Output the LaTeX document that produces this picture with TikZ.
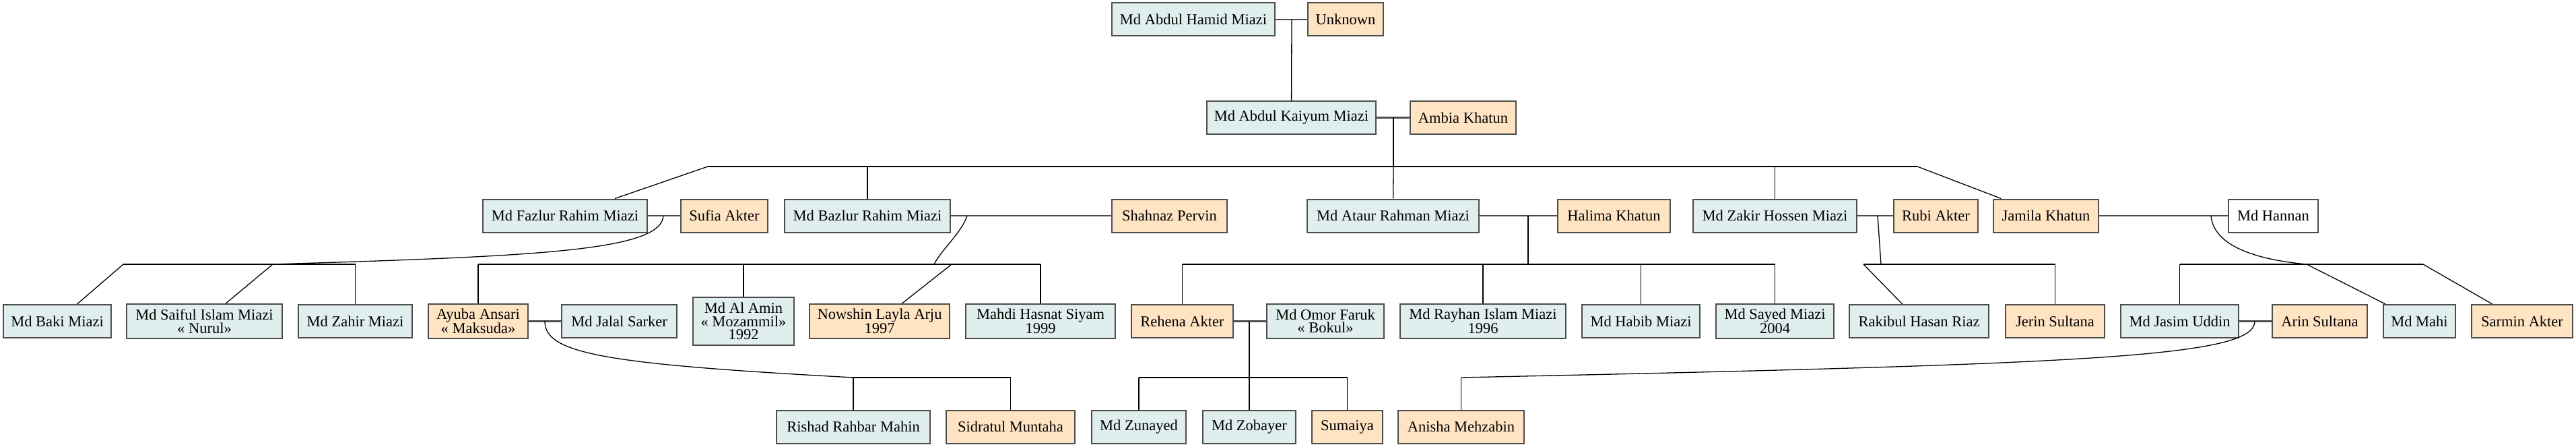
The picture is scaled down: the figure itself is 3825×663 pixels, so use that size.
\documentclass[tikz,border=0pt]{standalone}
\usepackage{fontspec}
\setmainfont{Liberation Serif}
\definecolor{bluef}{HTML}{E0EEEE}
\definecolor{orf}{HTML}{FFE4C4}
\definecolor{edgec}{HTML}{4D4D4D}
\tikzset{
  box/.style={draw=edgec, line width=2pt, inner sep=0pt, align=center,
    font=\fontsize{22.5}{19.5}\selectfont, minimum height=49pt},
  bl/.style={box, fill=bluef, minimum width=#1},
  og/.style={box, fill=orf, minimum width=#1},
  wh/.style={box, fill=white, minimum width=#1},
  two/.style={minimum height=51pt},
  three/.style={minimum height=71pt},
  kid/.style={line width=1.3pt, black},
  wed/.style={line width=2.2pt, edgec},
}
\begin{document}
\begin{tikzpicture}[x=1pt,y=-1pt]
\useasboundingbox (0,0) rectangle (3825,663);
% generation 1
\node[bl=242pt] (hamid) at (1772,29) {Md Abdul Hamid Miazi};
\node[og=112pt] (unknown) at (1998,29) {Unknown};
% generation 2
\node[bl=251pt] (kaiyum) at (1917.5,174.5) {Md Abdul Kaiyum Miazi};
\node[og=157pt] (ambia) at (2172.5,174.5) {Ambia Khatun};
% generation 3
\node[bl=244pt] (fazlur) at (839,320) {Md Fazlur Rahim Miazi};
\node[og=129pt] (sufia) at (1075.5,320) {Sufia Akter};
\node[bl=246pt] (bazlur) at (1288,320) {Md Bazlur Rahim Miazi};
\node[og=171pt] (shahnaz) at (1736.5,320) {Shahnaz Pervin};
\node[bl=255pt] (ataur) at (2068.5,320) {Md Ataur Rahman Miazi};
\node[og=167pt] (halima) at (2396.5,320) {Halima Khatun};
\node[bl=243pt] (zakir) at (2635.5,320) {Md Zakir Hossen Miazi};
\node[og=125pt] (rubi) at (2874.5,320) {Rubi Akter};
\node[og=156pt] (jamila) at (3038,320) {Jamila Khatun};
\node[wh=133pt] (hannan) at (3375.5,320) {Md Hannan};
% generation 4
\node[bl=160pt] (baki) at (85,476.5) {Md Baki Miazi};
\node[bl=231pt, two] (saiful) at (303.5,476.5) {Md Saiful Islam Miazi\\« Nurul»};
\node[bl=169pt] (zahir) at (527.5,476.5) {Md Zahir Miazi};
\node[og=148pt, two] (ayuba) at (710,476.5) {Ayuba Ansari\\« Maksuda»};
\node[bl=171pt] (jalal) at (919.5,476.5) {Md Jalal Sarker};
\node[bl=150pt, three] (alamin) at (1104,476.5) {Md Al Amin\\« Mozammil»\\1992};
\node[og=208pt, two] (nowshin) at (1306,476.5) {Nowshin Layla Arju\\1997};
\node[bl=222pt, two] (mahdi) at (1545,476.5) {Mahdi Hasnat Siyam\\1999};
\node[og=151pt] (rehena) at (1755.5,476.5) {Rehena Akter};
\node[bl=174pt, two] (omor) at (1968,476.5) {Md Omor Faruk\\« Bokul»};
\node[bl=246pt, two] (rayhan) at (2202,476.5) {Md Rayhan Islam Miazi\\1996};
\node[bl=175pt] (habib) at (2436.5,476.5) {Md Habib Miazi};
\node[bl=175pt, two] (sayed) at (2635.5,476.5) {Md Sayed Miazi\\2004};
\node[bl=207pt] (rakibul) at (2849.5,476.5) {Rakibul Hasan Riaz};
\node[og=147pt] (jerin) at (3051.5,476.5) {Jerin Sultana};
\node[bl=175pt] (jasim) at (3236.5,476.5) {Md Jasim Uddin};
\node[og=141pt] (arin) at (3444.5,476.5) {Arin Sultana};
\node[bl=107pt] (mahi) at (3592.5,476.5) {Md Mahi};
\node[og=150pt] (sarmin) at (3745,476.5) {Sarmin Akter};
% generation 5
\node[bl=228pt] (rishad) at (1267,633) {Rishad Rahbar Mahin};
\node[og=191pt] (sidratul) at (1500.5,633) {Sidratul Muntaha};
\node[bl=140pt] (zunayed) at (1691,633) {Md Zunayed};
\node[bl=138pt] (zobayer) at (1855,633) {Md Zobayer};
\node[og=105pt] (sumaiya) at (2000.5,633) {Sumaiya};
\node[og=187pt] (anisha) at (2169.5,633) {Anisha Mehzabin};

% ---- connectors ----
% Hamid + Unknown
\draw[wed] (hamid) -- (unknown);
\coordinate (m1) at (1918,29);
\draw[kid] (m1) -- (kaiyum);
% Kaiyum + Ambia
\draw[wed] (kaiyum) -- (ambia);
\coordinate (m2) at (2069,174.5);
\coordinate (c2L) at (1051,247);
\coordinate (c2R) at (2847,247);
\coordinate (c2M) at (2069,247);
\draw[kid] (m2) -- (c2M);
\draw[kid] (c2L) -- (c2R);
\draw[kid] (c2L) -- (fazlur);
\draw[kid] (bazlur |- c2L) -- (bazlur);
\draw[kid] (c2M) -- (ataur);
\draw[kid] (zakir |- c2L) -- (zakir);
\draw[kid] (c2R) -- (jamila);
% Fazlur + Sufia
\draw[wed] (fazlur) -- (sufia);
\coordinate (m3) at (985,320);
\coordinate (f1) at (183,392);
\coordinate (f2) at (527.5,392);
\coordinate (fj) at (405,392);
\draw[kid] (f1) -- (f2);
\draw[kid] (m3) .. controls (982,372) and (800,380) .. (fj);
\draw[kid] (f1) -- (baki);
\draw[kid] (fj) -- (saiful);
\draw[kid] (f2) -- (zahir);
% Bazlur + Shahnaz
\draw[wed] (bazlur) -- (shahnaz);
\coordinate (m4) at (1436,320);
\coordinate (b1) at (710,392);
\coordinate (b2) at (1545,392);
\coordinate (bj) at (1387,392);
\coordinate (bn) at (1413,392);
\draw[kid] (b1) -- (b2);
\draw[kid] (m4) .. controls (1428,345) and (1398,370) .. (bj);
\draw[kid] (b1) -- (ayuba);
\draw[kid] (alamin |- b1) -- (alamin);
\draw[kid] (bn) -- (nowshin);
\draw[kid] (b2) -- (mahdi);
% Ataur + Halima
\draw[wed] (ataur) -- (halima);
\coordinate (m5) at (2269,320);
\coordinate (a1) at (1755.5,392);
\coordinate (a2) at (2635.5,392);
\draw[kid] (m5) -- (m5 |- a1);
\draw[kid] (a1) -- (a2);
\draw[kid] (a1) -- (rehena);
\draw[kid] (rayhan |- a1) -- (rayhan);
\draw[kid] (habib |- a1) -- (habib);
\draw[kid] (a2) -- (sayed);
% Zakir + Rubi
\draw[wed] (zakir) -- (rubi);
\coordinate (m6) at (2788,320);
\coordinate (z1) at (2767,392);
\coordinate (z2) at (3051.5,392);
\coordinate (zj) at (2793,392);
\draw[kid] (m6) -- (zj);
\draw[kid] (z1) -- (z2);
\draw[kid] (z1) -- (rakibul);
\draw[kid] (z2) -- (jerin);
% Jamila + Hannan
\draw[wed] (jamila) -- (hannan);
\coordinate (m7) at (3283,320);
\coordinate (j1) at (3236.5,392);
\coordinate (j2) at (3598,392);
\coordinate (jj) at (3425,392);
\draw[kid] (j1) -- (j2);
\draw[kid] (m7) .. controls (3287,365) and (3350,385) .. (jj);
\draw[kid] (j1) -- (jasim);
\draw[kid] (jj) -- (mahi);
\draw[kid] (j2) -- (sarmin);
% Ayuba + Jalal
\draw[wed] (ayuba) -- (jalal);
\coordinate (m8) at (809,476.5);
\coordinate (y1) at (1267,560);
\coordinate (y2) at (1500.5,560);
\draw[kid] (y1) -- (y2);
\draw[kid] (m8) .. controls (809,525) and (900,540) .. (y1);
\draw[kid] (y1) -- (rishad);
\draw[kid] (y2) -- (sidratul);
% Rehena + Omor
\draw[wed] (rehena) -- (omor);
\coordinate (m9) at (1855,476.5);
\coordinate (r1) at (1691,560);
\coordinate (r2) at (2000.5,560);
\draw[kid] (r1) -- (r2);
\draw[kid] (m9) -- (zobayer);
\draw[kid] (r1) -- (zunayed);
\draw[kid] (r2) -- (sumaiya);
% Jasim + Arin
\draw[wed] (jasim) -- (arin);
\coordinate (m10) at (3348,476.5);
\coordinate (s1) at (2169.5,560);
\draw[kid] (m10) .. controls (3348,530) and (3100,540) .. (s1);
\draw[kid] (s1) -- (anisha);
\end{tikzpicture}
\end{document}
